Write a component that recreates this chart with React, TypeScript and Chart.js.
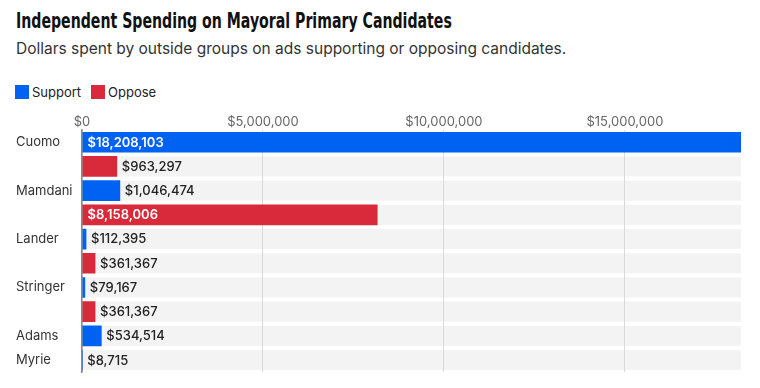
import React, { useEffect, useLayoutEffect, useRef } from "react";
import { Chart, registerables } from "chart.js";

Chart.register(...registerables);

const TITLE = "Independent Spending on Mayoral Primary Candidates";
const SUBTITLE = "Dollars spent by outside groups on ads supporting or opposing candidates.";

const candidates = ["Cuomo", "Mamdani", "Lander", "Stringer", "Adams", "Myrie"];
const supportValues: number[] = [18208103, 1046474, 112395, 79167, 534514, 8715];
const opposeValues: (number | null)[] = [963297, 8158006, 361367, 361367, null, null];
const seriesNames = ["Support", "Oppose"];
const seriesColors = ["#0062F2", "#D92A3C"];
const xTickValues = [0, 5000000, 10000000, 15000000];

const fmt = (v: number) => "$" + Math.round(v).toLocaleString("en-US");

// rows: each candidate's support row (labelled), followed by its oppose row (unlabelled) if any
const rowLabels: string[] = [];
const rowSupport: (number | null)[] = [];
const rowOppose: (number | null)[] = [];
candidates.forEach((c, i) => {
  rowLabels.push(c);
  rowSupport.push(supportValues[i]);
  rowOppose.push(null);
  if (opposeValues[i] != null) {
    rowLabels.push("");
    rowSupport.push(null);
    rowOppose.push(opposeValues[i]);
  }
});
const xMax = Math.max(
  ...supportValues,
  ...(opposeValues.filter((v) => v != null) as number[])
);

const FONT = "Inter, 'Noto Sans', sans-serif";

const trackPlugin = {
  id: "tracks",
  beforeDraw(chart: any) {
    const { ctx, scales } = chart;
    const x = scales.x;
    const y = scales.y;
    const x0 = x.getPixelForValue(0);
    const x1 = x.getPixelForValue(xMax);
    ctx.save();
    ctx.fillStyle = "#F3F3F3";
    rowLabels.forEach((_, i) => {
      const yc = y.getPixelForValue(i);
      ctx.fillRect(x0, yc - 10, x1 - x0, 20);
    });
    ctx.restore();
  },
};

const valueLabelPlugin = {
  id: "valueLabels",
  afterDatasetsDraw(chart: any) {
    const ctx = chart.ctx;
    ctx.save();
    ctx.textBaseline = "middle";
    ctx.textAlign = "left";
    chart.data.datasets.forEach((ds: any, di: number) => {
      const meta = chart.getDatasetMeta(di);
      meta.data.forEach((bar: any, i: number) => {
        const v = ds.data[i];
        if (v == null) return;
        const { x, y, base } = bar.getProps(["x", "y", "base"], true);
        const w = x - base;
        const txt = fmt(v);
        if (w > 150) {
          ctx.font = `600 13px ${FONT}`;
          ctx.fillStyle = "#FFFFFF";
          ctx.fillText(txt, base + 5, y + 0.5);
        } else {
          ctx.font = `500 13px ${FONT}`;
          ctx.fillStyle = "#222222";
          ctx.fillText(txt, x + 5, y + 0.5);
        }
      });
    });
    ctx.restore();
  },
};

function FitText({ text, width, style }: { text: string; width: number; style: React.CSSProperties }) {
  const ref = useRef<HTMLSpanElement | null>(null);
  useLayoutEffect(() => {
    const el = ref.current;
    if (!el) return;
    el.style.transform = "none";
    const w = el.offsetWidth;
    if (w > 0) el.style.transform = `scaleX(${width / w})`;
  }, [text, width]);
  return (
    <span
      ref={ref}
      style={{
        display: "inline-block",
        whiteSpace: "nowrap",
        transformOrigin: "0 0",
        ...style,
      }}
    >
      {text}
    </span>
  );
}

export default function App() {
  const canvasRef = useRef<HTMLCanvasElement | null>(null);

  useEffect(() => {
    const canvas = canvasRef.current;
    if (!canvas) return;
    const chart = new Chart(canvas, {
      type: "bar",
      data: {
        labels: rowLabels,
        datasets: [
          {
            label: seriesNames[0],
            data: rowSupport,
            backgroundColor: seriesColors[0],
            borderWidth: 0,
            barThickness: 20,
          },
          {
            label: seriesNames[1],
            data: rowOppose,
            backgroundColor: seriesColors[1],
            borderWidth: 0,
            barThickness: 20,
          },
        ],
      },
      options: {
        indexAxis: "y",
        animation: false,
        responsive: false,
        layout: { padding: { left: 8, right: 11, top: 7.5, bottom: 4.7 } },
        plugins: {
          legend: { display: false },
          tooltip: { enabled: false },
        },
        scales: {
          x: {
            position: "top",
            min: 0,
            max: xMax,
            stacked: true,
            afterBuildTicks: (s: any) => {
              s.ticks = xTickValues.map((v) => ({ value: v }));
            },
            ticks: {
              padding: 0,
              maxRotation: 0,
              autoSkip: false,
              color: "#666666",
              font: { family: FONT, size: 13 },
              callback: (v: any) => fmt(Number(v)),
            },
            grid: { color: "#D9D9D9", lineWidth: 1, drawTicks: false },
            border: { display: false },
          },
          y: {
            stacked: true,
            ticks: {
              crossAlign: "far",
              autoSkip: false,
              padding: 0,
              color: "#333333",
              font: { family: FONT, size: 13 },
            },
            grid: { display: false },
            border: { display: true, color: "#8A8A8A", width: 1.5, z: 1 },
            afterFit: (s: any) => {
              s.width = 66;
            },
          },
        },
      } as any,
      plugins: [trackPlugin, valueLabelPlugin],
    });
    return () => chart.destroy();
  }, []);

  return (
    <div style={{ position: "relative", width: 744, height: 372, fontFamily: FONT }}>
      <div style={{ position: "absolute", left: 8, top: 1.5, lineHeight: "22px", height: 26 }}>
        <FitText
          text={TITLE}
          width={436}
          style={{
            fontFamily: "'DejaVu Sans Condensed', 'DejaVu Sans', sans-serif",
            fontStretch: "condensed",
            fontWeight: 700,
            fontSize: 22,
            color: "#111111",
          }}
        />
      </div>
      <div style={{ position: "absolute", left: 8, top: 32, lineHeight: "16px" }}>
        <FitText
          text={SUBTITLE}
          width={550}
          style={{ fontFamily: FONT, fontSize: 16, color: "#333333" }}
        />
      </div>
      <div
        style={{
          position: "absolute",
          left: 7,
          top: 76.5,
          display: "flex",
          alignItems: "center",
          height: 14,
          fontSize: 13,
          color: "#222222",
          lineHeight: "14px",
        }}
      >
        {seriesNames.map((n, i) => (
          <div key={n} style={{ display: "flex", alignItems: "center", marginRight: 10 }}>
            <span style={{ display: "inline-block", width: 14, height: 14, background: seriesColors[i], marginRight: 3 }} />
            <span>{n}</span>
          </div>
        ))}
      </div>
      <canvas
        ref={canvasRef}
        width={744}
        height={273}
        style={{ position: "absolute", left: 0, top: 99, width: 744, height: 273 }}
      />
    </div>
  );
}
